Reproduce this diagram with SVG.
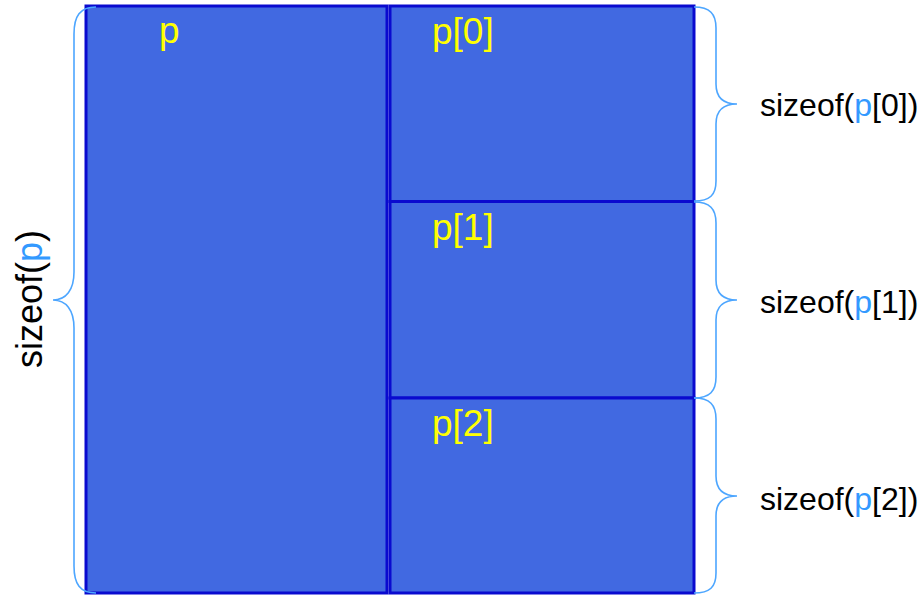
<svg xmlns="http://www.w3.org/2000/svg" width="922" height="595" viewBox="0 0 922 595">
<style>
.box{fill:#4169E1;stroke:#0A0ACF;stroke-width:3}
.lbl{font-family:"Liberation Sans",Arial,sans-serif;font-size:37px;fill:#FFFF00}
.sz{font-family:"Liberation Sans",Arial,sans-serif;font-size:32px;fill:#000}
.hl{fill:#3399FF}
.brace{fill:none;stroke:#4DA6FF;stroke-width:1.6}
</style>
<rect width="922" height="595" fill="#fff"/>
<g id="node-p">
<rect class="box" x="86" y="6" width="301" height="587"/>
<text class="lbl" x="159" y="43">p</text>
</g>
<g id="node-p0">
<rect class="box" x="390" y="6" width="304" height="195.5"/>
<text class="lbl" x="432" y="44">p[0]</text>
</g>
<g id="node-p1">
<rect class="box" x="390" y="201.5" width="304" height="196.5"/>
<text class="lbl" x="432" y="240">p[1]</text>
</g>
<g id="node-p2">
<rect class="box" x="390" y="398" width="304" height="195"/>
<text class="lbl" x="432" y="436">p[2]</text>
</g>
<g id="connectors">
<path class="brace" d="M96 7 C80 7 74 16 74 34 L74 272 C74 290 66 300 53 300 C66 300 74 310 74 328 L74 566 C74 584 80 593 96 593"/>
<path class="brace" d="M694 7 C710 7 716 14 716 28 L716 84 C716 97 723 104 737 104 C723 104 716 111 716 124 L716 181 C716 195 710 201 694 201"/>
<path class="brace" d="M694 202 C710 202 716 209 716 223 L716 280 C716 293 723 300 737 300 C723 300 716 307 716 320 L716 377 C716 391 710 398 694 398"/>
<path class="brace" d="M694 398 C710 398 716 405 716 419 L716 476 C716 489 723 496 737 496 C723 496 716 503 716 516 L716 573 C716 587 710 593 694 593"/>
</g>
<g id="sizes">
<text class="sz" x="760" y="116">sizeof(<tspan class="hl">p</tspan>[0])</text>
<text class="sz" x="760" y="313">sizeof(<tspan class="hl">p</tspan>[1])</text>
<text class="sz" x="760" y="510">sizeof(<tspan class="hl">p</tspan>[2])</text>
<text class="sz" transform="translate(42,299) rotate(-90)" text-anchor="middle" style="font-size:36px">sizeof(<tspan class="hl">p</tspan>)</text>
</g>
</svg>
